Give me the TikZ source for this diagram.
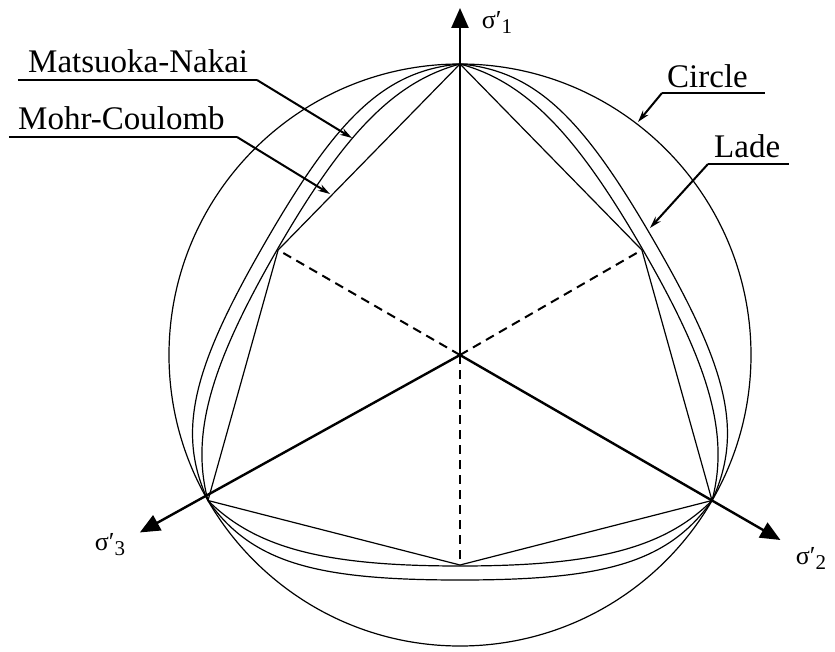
\documentclass[tikz,border=0pt]{standalone}
\usepackage{fontspec}
\setmainfont{Liberation Serif}
\usetikzlibrary{arrows.meta}
\begin{document}
\begin{tikzpicture}[x=1pt,y=1pt,
  thinline/.style={line width=1.2pt},
  axisline/.style={line width=2.4pt,-{Triangle[length=20pt,width=17pt]}},
  dashline/.style={line width=2pt,dash pattern=on 9pt off 6pt},
  leader/.style={line width=2pt,-{Stealth[length=12pt,width=7pt]}},
  uline/.style={line width=2pt},
  lbl/.style={inner sep=0pt,anchor=base west,font=\fontsize{33}{36}\selectfont},
  sig/.style={inner sep=0pt,font=\fontsize{26}{28}\selectfont}]
\useasboundingbox (-460,-296) rectangle (375,355);
\coordinate (O) at (0,0);
\coordinate (T) at (90:291);
\coordinate (R) at (-30:291);
\coordinate (L) at (210:291);
\coordinate (I1) at (30:210);
\coordinate (I2) at (150:210);
\coordinate (I3) at (270:210);
\coordinate (A1) at (90:347);
\coordinate (A2) at (-30:370);
\coordinate (A3) at (209:366);
% circle
\draw[thinline] (O) circle[radius=291];
% Mohr-Coulomb hexagon
\draw[thinline] (T) -- (I1) -- (R) -- (I3) -- (L) -- (I2) -- cycle;
% Matsuoka-Nakai and Lade (one side, drawn three times)
\foreach \rot in {-60,60,180}{
  \begin{scope}[rotate=\rot]
  \draw[thinline] (-252,145.5) .. controls (-202.5,195) and (-130,211) .. (0,211)
    .. controls (130,211) and (202.5,195) .. (252,145.5);
  \draw[thinline] (-252,145.5) .. controls (-207.3,209.4) and (-140,225) .. (0,225)
    .. controls (140,225) and (207.3,209.4) .. (252,145.5);
  \end{scope}
}
% dashed
\draw[dashline] (O) -- (I1);
\draw[dashline] (O) -- (I2);
\draw[dashline] (O) -- (I3);
% axes
\draw[axisline] (O) -- (A1);
\draw[axisline] (O) -- (A2);
\draw[axisline] (O) -- (A3);
\node[sig] (s1) at (37,333) {σ′\raisebox{-5pt}{\fontsize{21}{22}\selectfont 1}};
\node[sig] (s2) at (351,-203) {σ′\raisebox{-5pt}{\fontsize{21}{22}\selectfont 2}};
\node[sig] (s3) at (-350,-190) {σ′\raisebox{-5pt}{\fontsize{21}{22}\selectfont 3}};
% labels
\node[lbl] (mn) at (-432,282) {Matsuoka-Nakai};
\coordinate (mnA) at (-442,275);
\coordinate (mnB) at (-203,275);
\coordinate (mnT) at (-108,217);
\draw[uline] (mnA) -- (mnB);
\draw[leader] (mnB) -- (mnT);
\node[lbl] (mc) at (-442,225) {Mohr-Coulomb};
\coordinate (mcA) at (-451,218);
\coordinate (mcB) at (-223,218);
\coordinate (mcT) at (-130,161);
\draw[uline] (mcA) -- (mcB);
\draw[leader] (mcB) -- (mcT);
\node[lbl] (ci) at (207,267) {Circle};
\coordinate (ciA) at (202,262);
\coordinate (ciB) at (305,262);
\coordinate (ciT) at (178,233);
\draw[uline] (ciA) -- (ciB);
\draw[leader] (ciA) -- (ciT);
\node[lbl] (la) at (254,197) {Lade};
\coordinate (laA) at (248,191);
\coordinate (laB) at (329,191);
\coordinate (laT) at (190,127);
\draw[uline] (laA) -- (laB);
\draw[leader] (laA) -- (laT);
\end{tikzpicture}
\end{document}
